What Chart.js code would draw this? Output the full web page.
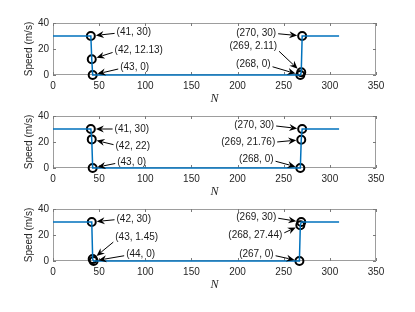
<!DOCTYPE html>
<html>
<head>
<meta charset="utf-8">
<script src="https://cdn.jsdelivr.net/npm/chart.js@4/dist/chart.umd.min.js"></script>
<style>
  body { margin: 0; background: #fff; width: 415px; height: 312px; position: relative; overflow: hidden; }
  canvas { position: absolute; left: 0; }
</style>
</head>
<body>
<canvas id="c1" width="415" height="106" style="top:0px"></canvas>
<canvas id="c2" width="415" height="106" style="top:93px"></canvas>
<canvas id="c3" width="415" height="106" style="top:186px"></canvas>
<script>
// speed profiles (N vs m/s), one per subplot
const stepsA = [0, 41, 42, 43, 268, 269, 270, 310];
const speedA = [30, 30, 12.13, 0, 0, 2.11, 30, 30];
const markNA = [41, 42, 43, 270, 269, 268];
const markVA = [30, 12.13, 0, 30, 2.11, 0];

const stepsB = [0, 41, 42, 43, 268, 269, 270, 310];
const speedB = [30, 30, 22, 0, 0, 21.76, 30, 30];
const markNB = [41, 42, 43, 270, 269, 268];
const markVB = [30, 22, 0, 30, 21.76, 0];

const stepsC = [0, 42, 43, 44, 267, 268, 269, 310];
const speedC = [30, 30, 1.45, 0, 0, 27.44, 30, 30];
const markNC = [42, 43, 44, 269, 268, 267];
const markVC = [30, 1.45, 0, 30, 27.44, 0];

const xTickStep = 50;
const yTickStep = 20;

// where each label sits relative to its point (px)
const shiftA = [[43, -3.5], [47, -9], [42, -8], [-46, -3], [-48, -26], [-47, -11]];
const shiftB = [[41, 0], [41, 7], [39, -6], [-48, -4], [-53, 3], [-44, -9]];
const shiftC = [[42, -3], [44, -22], [47, -7], [-45, -5], [-45, 10], [-43, -7]];

const FONT = '"Liberation Sans", Arial, sans-serif';
const AXIS = '#262626';

const boxPlugin = {
    id: 'box',
    beforeDatasetsDraw(chart) {
        const { ctx, chartArea: a, scales } = chart;
        ctx.save();
        ctx.strokeStyle = '#9d9d9d';
        ctx.lineWidth = 1;
        ctx.strokeRect(a.left + 0.5, a.top + 0.5, a.right - a.left - 1, a.bottom - a.top - 1);
        ctx.strokeStyle = '#7a7a7a';
        ctx.beginPath();
        scales.x.ticks.forEach(t => {
            const px = Math.round(scales.x.getPixelForValue(t.value)) + 0.5;
            ctx.moveTo(px, a.top); ctx.lineTo(px, a.top + 3);
            ctx.moveTo(px, a.bottom); ctx.lineTo(px, a.bottom - 3);
        });
        scales.y.ticks.forEach(t => {
            const py = Math.round(scales.y.getPixelForValue(t.value)) + 0.5;
            ctx.moveTo(a.left, py); ctx.lineTo(a.left + 3, py);
            ctx.moveTo(a.right, py); ctx.lineTo(a.right - 3, py);
        });
        ctx.stroke();
        ctx.restore();
    }
};

const labelPlugin = {
    id: 'labels',
    afterDatasetsDraw(chart, args, opts) {
        const { ctx, scales } = chart;
        ctx.save();
        ctx.font = '10px ' + FONT;
        ctx.textAlign = 'center';
        ctx.textBaseline = 'middle';
        opts.n.forEach((n, i) => {
            const v = opts.v[i];
            const px = scales.x.getPixelForValue(n);
            const py = scales.y.getPixelForValue(v);
            const tx = px + opts.shift[i][0];
            const ty = py + opts.shift[i][1];
            const txt = '(' + n + ', ' + v + ')';
            ctx.fillStyle = '#1a1a1a';
            ctx.fillText(txt, tx, ty);
            const w = ctx.measureText(txt).width;
            const sx = tx > px ? tx - w / 2 - 2 : tx + w / 2 + 2;
            const dy = Math.max(-5, Math.min(5, (py - ty) * 0.25));
            const sy = ty + dy;
            const len = Math.hypot(px - sx, py - sy);
            const ux = (px - sx) / len, uy = (py - sy) / len;
            const ex = px - ux * 5, ey = py - uy * 5;
            const hx = ex - ux * 8, hy = ey - uy * 8;
            ctx.strokeStyle = '#000';
            ctx.lineWidth = 1;
            ctx.beginPath();
            ctx.moveTo(sx, sy); ctx.lineTo(hx + ux * 2, hy + uy * 2);
            ctx.stroke();
            ctx.fillStyle = '#000';
            ctx.beginPath();
            ctx.moveTo(ex, ey);
            ctx.lineTo(hx - uy * 3.5, hy + ux * 3.5);
            ctx.lineTo(hx + ux * 2.5, hy + uy * 2.5);
            ctx.lineTo(hx + uy * 3.5, hy - ux * 3.5);
            ctx.closePath();
            ctx.fill();
        });
        ctx.restore();
    }
};

function makeChart(id, steps, speed, markN, markV, shift) {
    const ctx = document.getElementById(id).getContext('2d');
    return new Chart(ctx, {
        type: 'line',
        data: {
            datasets: [
                {
                    data: steps.map((n, i) => ({ x: n, y: speed[i] })),
                    borderColor: '#0072BD',
                    borderWidth: 1.5,
                    pointRadius: 0,
                    tension: 0,
                    clip: false
                },
                {
                    data: markN.map((n, i) => ({ x: n, y: markV[i] })),
                    showLine: false,
                    pointRadius: 4,
                    pointBorderWidth: 2,
                    pointBorderColor: '#000',
                    pointBackgroundColor: 'rgba(0,0,0,0)',
                    clip: false
                }
            ]
        },
        options: {
            responsive: false,
            animation: false,
            layout: { padding: { top: 23, left: 23, right: 39, bottom: 0 } },
            plugins: {
                legend: { display: false },
                tooltip: { enabled: false },
                labels: { n: markN, v: markV, shift: shift }
            },
            scales: {
                x: {
                    type: 'linear',
                    min: 0,
                    max: 350,
                    ticks: { stepSize: xTickStep, color: AXIS, padding: 5, maxRotation: 0, font: { family: FONT, size: 10 } },
                    grid: { display: false, drawTicks: false },
                    border: { display: false },
                    title: {
                        display: true,
                        text: 'N',
                        color: AXIS,
                        padding: 0,
                        font: { family: '"Liberation Serif", "Times New Roman", serif', size: 12, style: 'italic' }
                    },
                    afterFit: s => { s.height = 31; }
                },
                y: {
                    min: 0,
                    max: 40,
                    ticks: { stepSize: yTickStep, color: AXIS, padding: 4, font: { family: FONT, size: 10 } },
                    grid: { display: false, drawTicks: false },
                    border: { display: false },
                    title: {
                        display: true,
                        text: 'Speed (m/s)',
                        color: AXIS,
                        padding: 0,
                        font: { family: FONT, size: 10 }
                    },
                    afterFit: s => { s.width = 30; }
                }
            }
        },
        plugins: [boxPlugin, labelPlugin]
    });
}

makeChart('c1', stepsA, speedA, markNA, markVA, shiftA);
makeChart('c2', stepsB, speedB, markNB, markVB, shiftB);
makeChart('c3', stepsC, speedC, markNC, markVC, shiftC);
</script>
</body>
</html>
